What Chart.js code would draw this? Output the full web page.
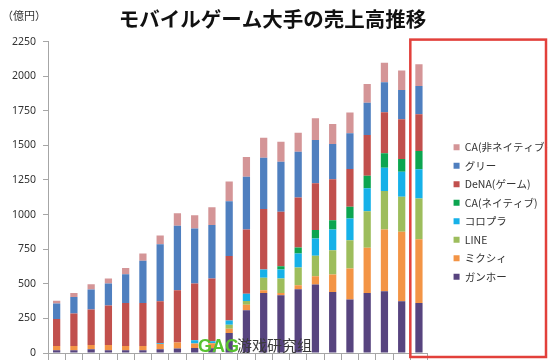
<!DOCTYPE html>
<html>
<head>
<meta charset="utf-8">
<script src="https://cdn.jsdelivr.net/npm/chart.js@4.4.1/dist/chart.umd.min.js"></script>
<style>
  html, body { margin: 0; padding: 0; background: #ffffff; overflow: hidden; }
  #wrap { width: 550px; height: 360px; position: relative; }
</style>
</head>
<body>
<div id="wrap"><canvas id="c" width="550" height="360"></canvas></div>
<script>
const TITLE = 'モバイルゲーム大手の売上高推移';
const UNIT = '（億円）';
const WATERMARK_A = 'GAG';
const WATERMARK_B = '游戏研究组';

const categories = ['10/3Q','10/4Q','11/1Q','11/2Q','11/3Q','11/4Q','12/1Q','12/2Q','12/3Q','12/4Q','13/1Q',
                    '13/2Q','13/3Q','13/4Q','14/1Q','14/2Q','14/3Q','14/4Q','15/1Q','15/2Q','15/3Q','15/4Q'];

const gungho    = [20,20,27,20,20,20,27,32,36,35,145,309,434,418,461,495,441,386,434,446,374,362];
const mixi      = [30,31,31,38,31,31,38,43,32,35,30,40,20,16,29,60,126,225,326,447,502,459];
const line      = [0,0,0,0,0,0,0,0,0,0,30,26,89,104,128,147,176,204,265,277,253,296];
const colopl    = [0,0,0,0,0,0,5,0,24,15,30,54,60,65,101,126,150,157,165,169,181,210];
const caNative  = [0,0,0,0,0,0,0,0,0,0,0,0,0,24,44,60,67,84,91,104,92,133];
const dena      = [195,234,256,285,311,311,304,379,410,453,465,463,437,393,361,338,295,273,294,296,287,265];
const gree      = [113,120,145,159,207,304,412,465,398,386,396,381,371,362,331,313,255,259,234,218,212,205];
const caNonNative = [19,29,38,36,46,53,63,90,96,130,144,144,145,145,137,157,145,149,135,141,140,157];

const yTicks = [0,250,500,750,1000,1250,1500,1750,2000,2250];

const seriesNames = ['ガンホー','ミクシィ','LINE','コロプラ','CA(ネイティブ)','DeNA(ゲーム)','グリー','CA(非ネイティブ)'];
const seriesData = [gungho, mixi, line, colopl, caNative, dena, gree, caNonNative];
const seriesColors = ['#57447f','#f39445','#9dbd5c','#16b1e8','#0ca550','#c1504d','#4f7fbf','#d49597'];

const LEGEND_SHIFT_X = 18;
const LEGEND_SHIFT_Y = 32;

const decor = {
  id: 'decor',
  afterLayout(chart) {
    const lg = chart.legend;
    if (lg) {
      lg.left += LEGEND_SHIFT_X; lg.right += LEGEND_SHIFT_X;
      lg.top += LEGEND_SHIFT_Y; lg.bottom += LEGEND_SHIFT_Y;
    }
  },
  afterDraw(chart) {
    const ctx = chart.ctx;
    const x = chart.scales.x, ca = chart.chartArea;
    ctx.save();
    ctx.font = '11px "Noto Sans CJK JP"';
    ctx.fillStyle = '#333';
    ctx.textBaseline = 'middle';
    ctx.textAlign = 'left';
    ctx.fillText(UNIT, 2, 16);
    const n = categories.length;
    const half = (x.getPixelForValue(n - 1) - x.getPixelForValue(n - 2)) / 2;
    const left = x.getPixelForValue(n - 1) - half;
    ctx.strokeStyle = '#e2403b';
    ctx.lineWidth = 2.5;
    ctx.strokeRect(left, ca.top - 2, chart.width - 4 - left, ca.bottom + 4 - (ca.top - 2));
    ctx.textBaseline = 'alphabetic';
    ctx.font = 'bold 18px "Liberation Sans"';
    ctx.fillStyle = '#58c230';
    ctx.fillText(WATERMARK_A, 198, 352);
    ctx.font = '15px "Noto Sans CJK SC"';
    ctx.fillStyle = '#3a3a3a';
    ctx.fillText(WATERMARK_B, 237, 351);
    ctx.restore();
  }
};

new Chart(document.getElementById('c'), {
  type: 'bar',
  data: {
    labels: categories,
    datasets: seriesNames.map((name, i) => ({
      label: name,
      data: seriesData[i],
      backgroundColor: seriesColors[i],
      borderWidth: 0,
      categoryPercentage: 1.0,
      barPercentage: 0.42
    }))
  },
  options: {
    responsive: false,
    animation: false,
    layout: { padding: { left: 5, right: 10, top: 0, bottom: 0 } },
    plugins: {
      title: {
        display: true,
        text: TITLE,
        color: '#111',
        font: { family: '"Noto Sans CJK JP"', size: 20.5, weight: 'bold' },
        padding: { top: 7, bottom: 10 }
      },
      legend: {
        position: 'right',
        reverse: true,
        align: 'center',
        labels: {
          boxWidth: 6,
          boxHeight: 6,
          padding: 8,
          color: '#333',
          font: { family: '"Noto Sans CJK JP"', size: 10.5 }
        }
      },
      tooltip: { enabled: false }
    },
    scales: {
      x: {
        stacked: true,
        afterFit: (s) => { s.height = 7; },
        grid: { display: true, drawOnChartArea: false, drawTicks: true, tickLength: 7, color: '#a6a6a6', offset: true },
        border: { display: true, color: '#a6a6a6' },
        ticks: { display: false }
      },
      y: {
        stacked: true,
        min: 0,
        max: 2250,
        afterBuildTicks: (axis) => { axis.ticks = yTicks.map(v => ({ value: v })); },
        afterFit: (s) => { s.paddingBottom = 0; },
        grid: { display: true, drawOnChartArea: false, drawTicks: true, tickLength: 5, color: '#a6a6a6' },
        border: { display: true, color: '#a6a6a6' },
        ticks: { color: '#333', padding: 7, font: { family: '"Noto Sans"', size: 10.5 }, callback: (v) => String(v) }
      }
    }
  },
  plugins: [decor]
});
</script>
</body>
</html>
